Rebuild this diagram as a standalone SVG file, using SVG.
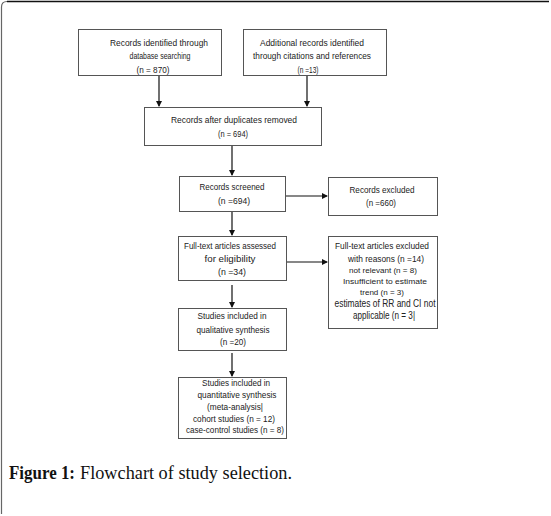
<svg xmlns="http://www.w3.org/2000/svg" width="551" height="516" viewBox="0 0 551 516">
<style>
.box{fill:#fff;stroke:#555;stroke-width:1}
.t{font-family:"Liberation Sans",Arial,sans-serif;font-size:9px;fill:#222;text-anchor:middle}
.s{font-size:8px}
.b{font-size:10px}
.ln{stroke:#111;stroke-width:1.2;fill:none}
.cap{font-family:"Liberation Serif","Times New Roman",serif;font-size:18.5px;fill:#111}
</style>
<defs>
<marker id="ah" markerWidth="6" markerHeight="6" refX="5" refY="3" orient="auto" markerUnits="userSpaceOnUse">
<path d="M0,0 L6,3 L0,6 Z" fill="#111"/>
</marker>
</defs>
<rect width="551" height="516" fill="#fff"/>
<path d="M1.5,514 V7 Q1.5,1.5 7,1.5 H549" fill="none" stroke="#666" stroke-width="1.2"/>
<path d="M7,1.5 H549" fill="none" stroke="#111" stroke-width="1.5"/>

<g id="connectors">
<line class="ln" x1="159" y1="76" x2="159" y2="106" marker-end="url(#ah)"/>
<line class="ln" x1="307" y1="76" x2="307" y2="106" marker-end="url(#ah)"/>
<line class="ln" x1="232" y1="146" x2="232" y2="175" marker-end="url(#ah)"/>
<line class="ln" x1="286" y1="196" x2="327" y2="196" stroke-width="1" marker-end="url(#ah)"/>
<line class="ln" x1="232" y1="212" x2="232" y2="235" marker-end="url(#ah)"/>
<line class="ln" x1="287" y1="262" x2="327" y2="262" stroke-width="2" marker-end="url(#ah)"/>
<line class="ln" x1="232" y1="285" x2="232" y2="307" marker-end="url(#ah)"/>
<line class="ln" x1="232" y1="353" x2="232" y2="376" marker-end="url(#ah)"/>
</g>

<g id="n1">
<rect class="box" x="78.5" y="29.5" width="143" height="46"/>
<text class="t" x="159" y="46" textLength="98" lengthAdjust="spacingAndGlyphs">Records identified through</text>
<text class="t" x="160" y="59" textLength="61" lengthAdjust="spacingAndGlyphs">database searching</text>
<text class="t" x="153" y="73" textLength="33" lengthAdjust="spacingAndGlyphs">(n = 870)</text>
</g>
<g id="n2">
<rect class="box" x="243.5" y="29.5" width="143" height="46"/>
<text class="t" x="312" y="46" textLength="104" lengthAdjust="spacingAndGlyphs">Additional records identified</text>
<text class="t" x="312" y="59" textLength="118" lengthAdjust="spacingAndGlyphs">through citations and references</text>
<text class="t" x="308" y="73" textLength="21" lengthAdjust="spacingAndGlyphs">(n =13)</text>
</g>
<g id="n3">
<rect class="box" x="144.5" y="107.5" width="177" height="38"/>
<text class="t" x="234" y="123" textLength="126" lengthAdjust="spacingAndGlyphs">Records  after duplicates removed</text>
<text class="t" x="233" y="137" textLength="30" lengthAdjust="spacingAndGlyphs">(n = 694)</text>
</g>
<g id="n4">
<rect class="box" x="179.5" y="176.5" width="106" height="35"/>
<text class="t" x="232" y="190" textLength="65" lengthAdjust="spacingAndGlyphs">Records screened</text>
<text class="t" x="234" y="204" textLength="32" lengthAdjust="spacingAndGlyphs">(n =694)</text>
</g>
<g id="n5">
<rect class="box" x="328.5" y="177.5" width="109" height="38"/>
<text class="t" x="382" y="193" textLength="65" lengthAdjust="spacingAndGlyphs">Records excluded</text>
<text class="t" x="381" y="206" textLength="30" lengthAdjust="spacingAndGlyphs">(n =660)</text>
</g>
<g id="n6">
<rect class="box" x="178.5" y="236.5" width="108" height="44"/>
<text class="t" x="230" y="249" textLength="92" lengthAdjust="spacingAndGlyphs">Full-text articles assessed</text>
<text class="t" x="230" y="262" textLength="51" lengthAdjust="spacingAndGlyphs">for  eligibility</text>
<text class="t" x="232" y="275" textLength="28" lengthAdjust="spacingAndGlyphs">(n =34)</text>
</g>
<g id="n7">
<rect class="box" x="328.5" y="236.5" width="109" height="92"/>
<text class="t" x="382" y="249" textLength="94" lengthAdjust="spacingAndGlyphs">Full-text articles excluded</text>
<text class="t" x="386" y="262" textLength="76" lengthAdjust="spacingAndGlyphs">with reasons (n =14)</text>
<text class="t s" x="383" y="273" textLength="68" lengthAdjust="spacingAndGlyphs">not relevant (n = 8)</text>
<text class="t s" x="385" y="284" textLength="84" lengthAdjust="spacingAndGlyphs">Insufficient to estimate</text>
<text class="t s" x="382" y="295" textLength="44" lengthAdjust="spacingAndGlyphs">trend (n = 3)</text>
<text class="t b" x="385" y="307" textLength="101" lengthAdjust="spacingAndGlyphs">estimates of RR and CI not</text>
<text class="t b" x="384" y="319" textLength="62" lengthAdjust="spacingAndGlyphs">applicable (n = 3|</text>
</g>
<g id="n8">
<rect class="box" x="178.5" y="308.5" width="108" height="42"/>
<text class="t" x="232" y="319" textLength="69" lengthAdjust="spacingAndGlyphs">Studies included in</text>
<text class="t" x="233" y="333" textLength="73" lengthAdjust="spacingAndGlyphs">qualitative synthesis</text>
<text class="t" x="233" y="345" textLength="26" lengthAdjust="spacingAndGlyphs">(n =20)</text>
</g>
<g id="n9">
<rect class="box" x="178.5" y="377.5" width="108" height="61"/>
<text class="t" x="236" y="386" textLength="68" lengthAdjust="spacingAndGlyphs">Studies included in</text>
<text class="t" x="237" y="398" textLength="79" lengthAdjust="spacingAndGlyphs">quantitative synthesis</text>
<text class="t" x="235" y="410" textLength="56" lengthAdjust="spacingAndGlyphs">(meta-analysis|</text>
<text class="t" x="234" y="422" textLength="82" lengthAdjust="spacingAndGlyphs">cohort studies (n = 12)</text>
<text class="t" x="235" y="433" textLength="98" lengthAdjust="spacingAndGlyphs">case-control studies (n = 8)</text>
</g>

<text class="cap" x="9" y="479" font-weight="bold" textLength="66" lengthAdjust="spacingAndGlyphs">Figure 1:</text>
<text class="cap" x="80" y="479" textLength="212" lengthAdjust="spacingAndGlyphs">Flowchart of study selection.</text>
</svg>
